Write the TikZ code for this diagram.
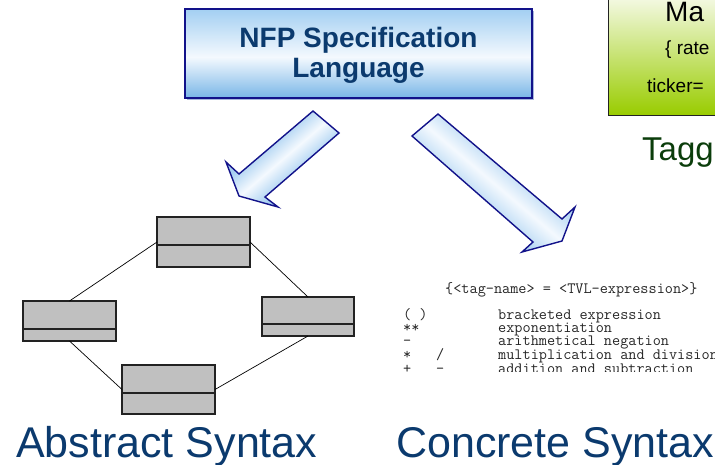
\documentclass[tikz,border=0pt]{standalone}
\usepackage{fontspec}
\setmainfont{Liberation Sans}
\definecolor{nfpnavy}{HTML}{12128A}
\definecolor{nfptext}{HTML}{0B3A6E}
\definecolor{bxtop}{HTML}{A3CFF2}
\definecolor{bxmid}{HTML}{F4F9FE}
\definecolor{bxbot}{HTML}{79B6E7}
\definecolor{bxshadow}{HTML}{A8B8DC}
\definecolor{arwblue}{HTML}{A6CFF1}
\definecolor{arwwhite}{HTML}{F4F9FE}
\definecolor{grtop}{HTML}{F6FAE8}
\definecolor{grbot}{HTML}{99CC00}
\definecolor{tagggreen}{HTML}{0B3D0B}
\definecolor{umlgrey}{HTML}{C0C0C0}
\definecolor{umlline}{HTML}{222222}
\pgfdeclareverticalshading{boxshade}{100bp}{color(0bp)=(bxbot); color(25bp)=(bxbot); color(48bp)=(bxmid); color(75bp)=(bxtop); color(100bp)=(bxtop)}
\pgfdeclareverticalshading{arrowshade}{100bp}{color(0bp)=(arwblue); color(39bp)=(arwblue); color(50bp)=(arwwhite); color(61bp)=(arwblue); color(100bp)=(arwblue)}
\pgfdeclareverticalshading{greenshade}{100bp}{color(0bp)=(grbot); color(25bp)=(grbot); color(75bp)=(grtop); color(100bp)=(grtop)}
\tikzset{
  umlbox/.style={draw=umlline, line width=1.2pt, fill=umlgrey, inner sep=0pt, outer sep=0pt},
  umlconn/.style={draw=black, line width=0.7pt},
  bigarrow/.style={draw=nfpnavy, line width=1.4pt, line join=miter, shading=arrowshade},
  codetxt/.style={font=\ttfamily\addfontfeature{FakeBold=0.8}\fontsize{15.8}{17}\selectfont, text=black!85, anchor=base west, inner sep=0pt},
  label/.style={font=\fontsize{43}{48}\selectfont, text=nfptext, anchor=base west, inner sep=0pt},
}
\begin{document}
\begin{tikzpicture}[x=1pt,y=-1pt]
\useasboundingbox (0,0) rectangle (715,464);
\clip (0,0) rectangle (715,464);

% green box (cut off at right)
\path[shading=greenshade, draw=umlline, line width=0.8pt] (608,-5) rectangle (730,115);
\node[font=\fontsize{28}{30}\selectfont, anchor=base west, inner sep=0pt] (ma) at (665,21) {Ma};
\node[font=\fontsize{19}{21}\selectfont, anchor=base west, inner sep=0pt] (rate) at (665,54) {\{ rate};
\node[font=\fontsize{19}{21}\selectfont, anchor=base west, inner sep=0pt] (ticker) at (647,92) {ticker=};
\node[font=\fontsize{33}{36}\selectfont, text=tagggreen, anchor=base west, inner sep=0pt] (tagg) at (642,160) {Tagg};

% top box
\fill[bxshadow] (187,11) rectangle (534,100);
\node[shading=boxshade, draw=nfpnavy, line width=1.5pt, minimum width=347pt, minimum height=89pt, inner sep=0pt, outer sep=0pt] (nfp) at (358.5,53.5) {};
\node[font=\bfseries\fontsize{28}{30}\selectfont, text=nfptext, align=center, inner sep=0pt] (nfptxt) at (358.5,55) {NFP Specification\\Language};

% block arrows
\path[bigarrow, shading angle=40.6] (226,162) -- (239,174) -- (313,111) -- (339,133) -- (265,197) -- (278,207) -- (239,196) -- cycle;
\path[bigarrow, shading angle=-40.3] (438,114) -- (562,219) -- (575,207) -- (562,241) -- (522,252) -- (533,242) -- (412,136) -- cycle;

% UML boxes
\node[umlbox, minimum width=93pt, minimum height=50pt] (ctop) at (203.5,242) {};
\node[umlbox, minimum width=93pt, minimum height=40pt] (cleft) at (69.5,321) {};
\node[umlbox, minimum width=92pt, minimum height=39pt] (cright) at (308,316.5) {};
\node[umlbox, minimum width=93pt, minimum height=49pt] (cbot) at (168.5,389.5) {};
\draw[umlline, line width=1.2pt] (ctop.west |- 0,245) -- (ctop.east |- 0,245);
\draw[umlline, line width=1.2pt] (cleft.west |- 0,329) -- (cleft.east |- 0,329);
\draw[umlline, line width=1.2pt] (cright.west |- 0,324) -- (cright.east |- 0,324);
\draw[umlline, line width=1.2pt] (cbot.west |- 0,393) -- (cbot.east |- 0,393);
\draw[umlconn] (ctop.west) -- (cleft.north);
\draw[umlconn] (ctop.east) -- (cright.north);
\draw[umlconn] (cleft.south) -- (cbot.west);
\draw[umlconn] (cright.south) -- (cbot.east);

% concrete syntax text
\node[codetxt] (tvl) at (445,293) {\{<tag-name> = <TVL-expression>\}};
\begin{scope}
\clip (390,300) rectangle (715,371);
\node[codetxt] (o1) at (403,319) {( )};
\node[codetxt] (d1) at (498,319) {bracketed expression};
\node[codetxt] (o2) at (403,332) {**};
\node[codetxt] (d2) at (498,332) {exponentiation};
\node[codetxt] (o3) at (403,345) {-};
\node[codetxt] (d3) at (498,345) {arithmetical negation};
\node[codetxt] (o4) at (403,359) {*};
\node[codetxt] (o4b) at (436,359) {/};
\node[codetxt] (d4) at (498,359) {multiplication and division};
\node[codetxt] (o5) at (403,373) {+};
\node[codetxt] (o5b) at (436,373) {-};
\node[codetxt] (d5) at (498,373) {addition and subtraction};
\end{scope}

% labels
\node[label] (abs) at (16,457) {Abstract Syntax};
\node[label] (con) at (396,457) {Concrete Syntax};
\end{tikzpicture}
\end{document}
